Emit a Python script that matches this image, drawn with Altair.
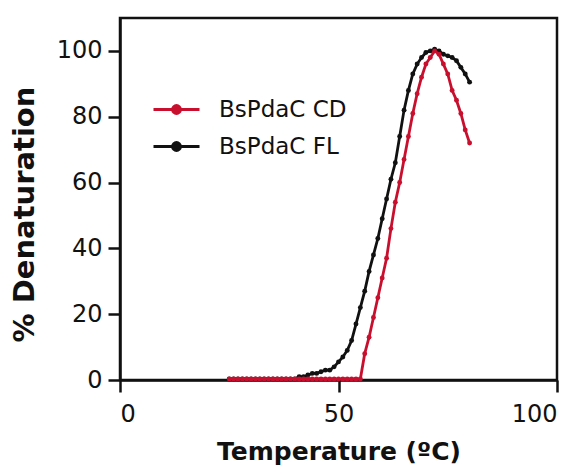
import altair as alt
import pandas as pd

temps = list(range(25, 81))

cd_vals = [0.3] * 31 + [  # 25..55
    8, 13, 19, 25, 31, 37, 46, 54, 60, 67, 74, 81, 87, 92, 96, 98, 100,  # 56..72
    99, 96, 93, 88, 85, 81, 76, 72  # 73..80
]

fl_vals = [0.3] * 16 + [  # 25..40
    1, 1, 1.5, 2, 2, 2.5, 3, 3, 4, 5.5, 7, 9, 12, 17, 22, 27, 33, 38, 43, 49,  # 41..60
    55, 61, 66, 74, 82, 88, 93, 96, 98, 99.5, 100, 100.5, 100, 99, 98.5, 98,  # 61..76
    97, 95, 93, 90.5  # 77..80
]

series = ["BsPdaC CD", "BsPdaC FL"]
colors = ["#c8102e", "#111111"]

df_cd = pd.DataFrame({"T": temps, "D": cd_vals, "s": series[0]})
df_fl = pd.DataFrame({"T": temps, "D": fl_vals, "s": series[1]})

FONT = "DejaVu Sans"

color = alt.Color(
    "s:N",
    scale=alt.Scale(domain=series, range=colors),
    legend=alt.Legend(
        title=None,
        orient="none",
        legendX=32,
        legendY=67,
        symbolType="M-1,0H1M-0.17,0A0.17,0.17,0,1,1,0.17,0A0.17,0.17,0,1,1,-0.17,0Z",
        symbolSize=2116,
        symbolStrokeWidth=3,
        labelFontSize=23,
        labelFont=FONT,
        labelColor="#111",
        labelOffset=18,
        rowPadding=-9,
        padding=0,
    ),
)

x = alt.X(
    "T:Q",
    scale=alt.Scale(domain=[0, 100], nice=False),
    axis=alt.Axis(values=[0, 50, 100], title="Temperature (ºC)", grid=False,
                  titleFontSize=25, labelPadding=10, titlePadding=13),
)
y = alt.Y(
    "D:Q",
    scale=alt.Scale(domain=[0, 110], nice=False),
    axis=alt.Axis(values=[0, 20, 40, 60, 80, 100], title="% Denaturation", grid=False,
                  titleFontSize=29, labelPadding=6, titlePadding=17, titleY=196),
)


def layer(df):
    base = alt.Chart(df).encode(x=x, y=y, color=color)
    return base.mark_line(strokeWidth=2.8) + base.mark_point(filled=True, size=24, opacity=1)


chart = (
    alt.layer(layer(df_fl), layer(df_cd))
    .properties(
        width=437,
        height=362,
        padding={"left": 120, "top": 18, "right": 26, "bottom": 87},
        autosize=alt.AutoSizeParams(type="none"),
        background="white",
    )
    .configure_view(stroke="#111", strokeWidth=2.5)
    .configure_axis(
        domainColor="#111",
        domainWidth=2.5,
        tickColor="#111",
        tickWidth=2.5,
        tickSize=12,
        labelFont=FONT,
        labelFontSize=24,
        labelColor="#111",
        titleFont=FONT,
        titleFontWeight="bold",
        titleColor="#111",
    )
)

chart.save("out.html", embed_options={"renderer": "svg", "actions": False})
